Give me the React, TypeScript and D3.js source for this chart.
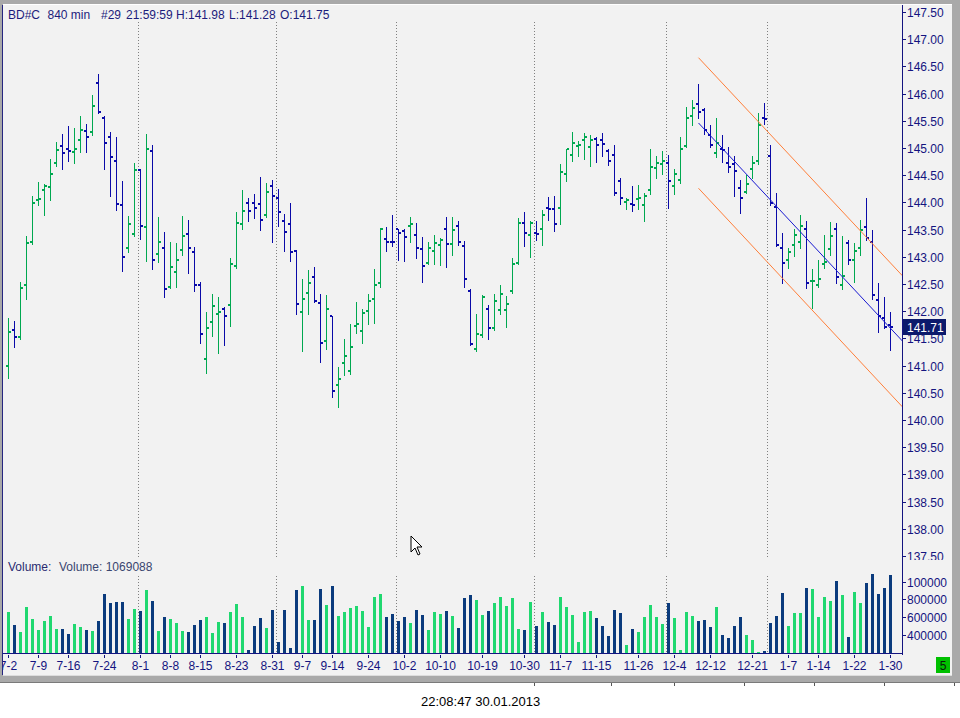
import * as d3 from 'd3';
import React, { FC, useEffect, useRef } from 'react';

// bar data, oldest first (148 bars of 840 min)
const opens = [
  140.99, 141.65, 141.52, 142.49, 143.28, 144.04, 144.22, 144.28, 144.72, 145.03,
  144.98, 144.92, 145.14, 145.31, 145.29, 146.19, 145.55, 145.2, 144.76, 143.95,
  143.17, 143.41, 144.59, 143.54, 144.94, 143.05, 143.17, 142.44, 142.72, 143.12,
  143.41, 143.08, 142.48, 141.13, 141.81, 141.94, 142.04, 142.11, 142.83, 143.6,
  143.98, 143.98, 143.97, 143.76, 144.3, 144.09, 143.65, 143.6, 143.1, 141.98,
  142.33, 142.62, 142.15, 141.45, 141.91, 140.64, 141.04, 140.9, 141.72, 141.63,
  142.0, 142.22, 142.51, 143.32, 143.28, 143.51, 143.47, 143.56, 143.4, 143.14,
  142.88, 143.1, 143.21, 143.51, 143.23, 143.57, 143.19, 142.37, 141.3, 141.56,
  142.04, 141.69, 142.02, 142.02, 142.38, 142.88, 143.63, 143.4, 143.43, 143.51,
  143.89, 143.87, 143.89, 144.53, 144.87, 145.03, 145.14, 145.01, 145.16, 145.14,
  144.94, 144.88, 144.39, 144.0, 143.97, 144.06, 143.95, 144.22, 144.63, 144.7,
  144.72, 144.3, 144.42, 145.03, 145.58, 145.8, 145.69, 145.23, 144.9, 144.98,
  144.72, 144.7, 144.26, 144.19, 144.61, 144.77, 145.55, 144.85, 143.91, 143.17,
  142.95, 143.21, 143.27, 143.51, 142.55, 142.48, 142.86, 143.14, 143.51, 142.49,
  143.25, 142.95, 143.17, 143.54, 143.27, 142.2, 141.87, 141.75
];

const highs = [
  141.87, 141.82, 142.54, 143.38, 144.12, 144.38, 144.34, 144.8, 145.11, 145.26,
  145.4, 145.37, 145.59, 145.44, 145.97, 146.36, 145.58, 145.29, 145.2, 144.39,
  143.75, 144.72, 144.61, 145.26, 145.06, 143.73, 143.46, 143.27, 143.25, 143.75,
  143.68, 143.18, 142.53, 141.99, 142.32, 142.26, 142.08, 142.98, 143.82, 144.23,
  144.08, 144.15, 144.47, 144.35, 144.41, 144.24, 143.79, 143.99, 143.12, 142.6,
  142.76, 142.81, 142.32, 142.3, 141.92, 140.97, 141.49, 141.76, 142.17, 142.04,
  142.32, 142.78, 143.53, 143.55, 143.77, 143.52, 143.51, 143.73, 143.62, 143.36,
  143.27, 143.4, 143.35, 143.73, 143.73, 143.66, 143.29, 142.4, 141.95, 142.29,
  142.11, 142.32, 142.48, 142.28, 142.98, 143.71, 143.82, 143.66, 143.66, 143.86,
  144.1, 144.12, 144.71, 144.99, 145.29, 145.13, 145.28, 145.24, 145.2, 145.28,
  144.99, 145.05, 144.44, 144.09, 144.3, 144.32, 144.17, 144.98, 144.85, 144.94,
  144.87, 144.61, 145.2, 145.75, 145.88, 146.18, 145.73, 145.42, 145.55, 145.23,
  145.01, 144.85, 144.41, 144.51, 144.85, 145.64, 145.82, 145.05, 144.17, 143.44,
  143.17, 143.51, 143.77, 143.66, 142.78, 142.94, 143.4, 143.64, 143.62, 143.38,
  143.31, 143.25, 143.68, 144.08, 143.49, 142.51, 142.27, 141.98
];

const lows = [
  140.78, 141.35, 141.48, 142.23, 143.24, 143.96, 143.76, 144.05, 144.67, 144.62,
  144.77, 144.73, 144.93, 144.93, 145.23, 145.64, 144.62, 144.12, 143.86, 142.74,
  143.09, 143.38, 143.33, 142.93, 142.78, 142.91, 142.27, 142.42, 142.45, 143.04,
  142.71, 142.38, 141.42, 140.87, 141.55, 141.24, 141.37, 141.73, 142.8, 143.52,
  143.65, 143.72, 143.5, 143.74, 143.28, 143.57, 143.11, 142.93, 141.95, 141.26,
  141.95, 142.17, 141.07, 141.31, 140.43, 140.24, 140.83, 140.85, 141.6, 141.42,
  141.77, 141.79, 142.45, 143.11, 143.19, 142.95, 142.93, 143.28, 142.97, 142.54,
  142.87, 142.87, 142.85, 142.82, 143.04, 143.22, 142.45, 141.37, 141.27, 141.53,
  141.49, 141.66, 141.95, 141.71, 142.34, 142.86, 143.19, 143.0, 143.3, 143.22,
  143.68, 143.48, 143.61, 144.4, 144.77, 144.86, 144.8, 144.66, 144.75, 144.86,
  144.69, 144.14, 143.97, 143.87, 143.85, 143.87, 143.66, 144.15, 144.45, 144.53,
  143.9, 144.16, 144.36, 145.01, 145.42, 145.56, 145.25, 145.02, 144.84, 144.75,
  144.55, 144.12, 143.81, 144.17, 144.45, 144.7, 145.44, 143.96, 143.19, 142.52,
  142.8, 143.02, 143.17, 142.43, 142.06, 142.45, 142.8, 143.03, 142.52, 142.4,
  142.86, 142.54, 143.03, 143.3, 142.22, 141.62, 141.69, 141.28
];

const closes = [
  141.61, 141.52, 142.42, 143.25, 143.98, 144.06, 144.3, 144.53, 144.96, 144.9,
  144.94, 144.98, 145.34, 145.2, 145.78, 145.66, 145.1, 144.83, 143.97, 142.99,
  143.6, 144.59, 143.56, 144.99, 142.94, 143.28, 142.4, 142.81, 142.94, 143.38,
  143.16, 142.49, 141.58, 141.7, 142.09, 141.98, 141.92, 142.86, 143.62, 143.84,
  143.85, 143.89, 143.67, 144.19, 144.11, 143.82, 143.45, 143.08, 142.13, 142.22,
  142.51, 142.18, 141.41, 142.04, 140.53, 140.75, 141.17, 141.34, 141.76, 141.96,
  142.18, 142.49, 143.52, 143.27, 143.27, 143.43, 143.36, 143.6, 143.17, 142.84,
  143.17, 143.25, 143.3, 143.23, 143.49, 143.27, 142.6, 141.39, 141.59, 142.27,
  141.69, 142.18, 142.31, 142.13, 142.86, 143.62, 143.43, 143.62, 143.42, 143.76,
  143.87, 143.6, 144.55, 144.98, 145.1, 145.05, 145.2, 145.14, 145.05, 145.07,
  144.77, 144.17, 144.09, 144.04, 143.95, 144.08, 144.11, 144.65, 144.72, 144.76,
  144.39, 144.52, 144.98, 145.56, 145.73, 145.66, 145.34, 145.05, 145.09, 144.97,
  144.65, 144.57, 144.09, 144.33, 144.72, 145.42, 145.53, 143.98, 143.21, 142.88,
  143.08, 143.4, 143.56, 142.51, 142.56, 142.59, 142.9, 143.38, 142.62, 142.64,
  142.95, 143.1, 143.49, 143.34, 142.29, 141.92, 141.71, 141.71
];

const volumes = [
  654000, 517000, 431000, 718000, 584000, 453000, 554000, 610000, 472000, 464000,
  416000, 528000, 487000, 453000, 442000, 554000, 855000, 755000, 773000, 766000,
  576000, 695000, 666000, 900000, 785000, 442000, 606000, 584000, 531000, 442000,
  431000, 517000, 572000, 606000, 420000, 543000, 531000, 654000, 744000, 598000,
  230000, 498000, 587000, 476000, 677000, 319000, 677000, 260000, 900000, 945000,
  565000, 565000, 911000, 733000, 945000, 610000, 654000, 699000, 721000, 666000,
  487000, 822000, 855000, 598000, 632000, 554000, 598000, 531000, 677000, 621000,
  453000, 654000, 632000, 666000, 610000, 476000, 811000, 844000, 788000, 621000,
  673000, 755000, 829000, 721000, 818000, 472000, 461000, 766000, 505000, 654000,
  543000, 517000, 829000, 718000, 628000, 319000, 654000, 666000, 595000, 498000,
  394000, 677000, 643000, 286000, 464000, 431000, 606000, 733000, 598000, 520000,
  755000, 587000, 230000, 654000, 610000, 554000, 572000, 487000, 710000, 405000,
  368000, 505000, 606000, 405000, 349000, 215000, 226000, 539000, 617000, 867000,
  505000, 643000, 643000, 930000, 919000, 598000, 829000, 777000, 1008000, 844000,
  382000, 885000, 755000, 978000, 1079000, 855000, 922000, 1069088
];

const xTickIdx = [0, 5, 10, 16, 22, 27, 32, 38, 44, 49, 54, 60, 66, 72, 79, 86, 92, 98, 105, 111, 117, 124, 130, 135, 141, 147];
const xTickLabels = [
  '7-2', '7-9', '7-16', '7-24', '8-1', '8-8', '8-15', '8-23', '8-31', '9-7', '9-14', '9-24', '10-2',
  '10-10', '10-19', '10-30', '11-7', '11-15', '11-26', '12-4', '12-12', '12-21', '1-7', '1-14', '1-22', '1-30'
];
const monthStartIdx = [22, 45, 65, 88, 110, 127];

const priceTicks = [
  147.5, 147, 146.5, 146, 145.5, 145, 144.5, 144, 143.5, 143, 142.5,
  142, 141.5, 141, 140.5, 140, 139.5, 139, 138.5, 138, 137.5
];
const volTicks = [1000000, 800000, 600000, 400000];
const volTickLabels = ['100000', '800000', '600000', '400000'];

// header tokens and where each one starts
const headerTexts = ['BD#C', '840 min', '#29', '21:59:59', 'H:141.98', 'L:141.28', 'O:141.75'];
const headerX = [8, 47.5, 101, 126, 176, 229, 280];

// regression channel drawn on the chart (bar index -> price)
const channelIdx = [115, 149];
const channelMid = [145.46, 141.45];
const channelUpper = [146.66, 142.65];
const channelLower = [144.26, 140.24];

const W = 960;
const H = 718;
const FONT = '"Liberation Sans", Arial, sans-serif';
const UP = '#00a850';
const DOWN = '#0a0aa8';
const VOL_UP = '#20d870';
const VOL_DOWN = '#0b3b7d';
const NAVY = '#141480';

const Chart: FC = (): JSX.Element => {
  const ref = useRef<SVGSVGElement>(null);

  const createChart = () => {
    const svg = d3.select(ref.current).attr('width', W).attr('height', H);
    svg.selectAll('*').remove();

    const x = d3.scaleLinear().domain([0, 147]).range([8.5, 890.5]);
    const y = d3.scaleLinear().domain([137.5, 147.5]).range([556, 12]);
    const yv = d3.scaleLinear().domain([200000, 1000000]).range([653, 581.5]);
    const py = (v: number) => Math.round(y(v));

    const defs = svg.append('defs');
    defs.append('clipPath').attr('id', 'plotClip')
      .append('rect').attr('x', 3).attr('y', 5).attr('width', 899).attr('height', 554);
    defs.append('clipPath').attr('id', 'priceAxisClip')
      .append('rect').attr('x', 902).attr('y', 5).attr('width', 50).attr('height', 555);
    defs.append('clipPath').attr('id', 'xAxisClip')
      .append('rect').attr('x', 3).attr('y', 655).attr('width', 949).attr('height', 20);

    // window frame
    svg.append('rect').attr('width', W).attr('height', H).attr('fill', '#ffffff');
    svg.append('rect').attr('width', W).attr('height', 683).attr('fill', '#a9a9a9');
    svg.append('rect').attr('x', 3).attr('y', 5).attr('width', 949).attr('height', 670).attr('fill', '#f2f2f2');
    svg.append('rect').attr('x', 3).attr('y', 4).attr('width', 949).attr('height', 1).attr('fill', '#ffffff');
    svg.append('rect').attr('x', 3).attr('y', 675).attr('width', 949).attr('height', 1).attr('fill', '#dcdcdc');
    svg.append('rect').attr('x', 0).attr('y', 682).attr('width', W).attr('height', 1).attr('fill', '#7a7a7a');
    svg.append('rect').attr('x', 2).attr('y', 5).attr('width', 1).attr('height', 670).attr('fill', '#262680');
    [534, 611, 674, 744, 814, 884, 954].forEach((sx) => {
      svg.append('rect').attr('x', sx).attr('y', 683).attr('width', 1).attr('height', 3).attr('fill', '#555555');
    });

    // month separators
    const sep = svg.append('g').attr('stroke', '#808080').attr('stroke-dasharray', '1,2');
    monthStartIdx.forEach((m) => {
      const sx = Math.round(x(m)) - 2.5;
      sep.append('line').attr('x1', sx).attr('x2', sx).attr('y1', 22).attr('y2', 558);
      sep.append('line').attr('x1', sx).attr('x2', sx).attr('y1', 576).attr('y2', 653);
    });

    // price bars
    const bars = svg.append('g').attr('clip-path', 'url(#plotClip)');
    opens.forEach((o, i) => {
      const c = closes[i];
      const col = c >= o ? UP : DOWN;
      const cx = x(i);
      const top = py(highs[i]);
      const bottom = py(lows[i]);
      bars.append('rect').attr('x', cx - 0.5).attr('y', top).attr('width', 1)
        .attr('height', Math.max(1, bottom - top + 1)).attr('fill', col);
      bars.append('rect').attr('x', cx - 2.5).attr('y', py(o) - 1).attr('width', 2).attr('height', 2).attr('fill', col);
      bars.append('rect').attr('x', cx + 0.5).attr('y', py(c) - 1).attr('width', 2).attr('height', 2).attr('fill', col);
    });

    // channel
    const line = d3.line<[number, number]>().x((d) => x(d[0])).y((d) => y(d[1]));
    const chan = svg.append('g').attr('clip-path', 'url(#plotClip)').attr('fill', 'none').attr('stroke-width', 1);
    [
      { v: channelUpper, c: '#ff7f3a' },
      { v: channelLower, c: '#ff7f3a' },
      { v: channelMid, c: '#1818d0' }
    ].forEach((s) => {
      chan.append('path')
        .attr('d', line(channelIdx.map((ix, k) => [ix, s.v[k]] as [number, number])))
        .attr('stroke', s.c);
    });

    // volume bars
    const vol = svg.append('g');
    volumes.forEach((v, i) => {
      const top = Math.round(yv(v));
      vol.append('rect').attr('x', x(i) - 1.5).attr('y', top).attr('width', 3)
        .attr('height', 653 - top).attr('fill', closes[i] >= opens[i] ? VOL_UP : VOL_DOWN);
    });

    // axes
    svg.append('rect').attr('x', 902).attr('y', 5).attr('width', 1).attr('height', 650).attr('fill', NAVY);
    svg.append('rect').attr('x', 3).attr('y', 653).attr('width', 900).attr('height', 1).attr('fill', NAVY);

    const pAxis = svg.append('g').attr('clip-path', 'url(#priceAxisClip)')
      .attr('font-family', FONT).attr('font-size', 12).attr('fill', NAVY);
    priceTicks.forEach((t) => {
      const ty = py(t);
      pAxis.append('rect').attr('x', 903).attr('y', ty).attr('width', 3).attr('height', 1);
      pAxis.append('text').attr('x', 907).attr('y', ty + 5).text(d3.format('.2f')(t));
    });

    const vAxis = svg.append('g').attr('font-family', FONT).attr('font-size', 12).attr('fill', NAVY);
    volTicks.forEach((t, k) => {
      const ty = Math.round(yv(t));
      vAxis.append('rect').attr('x', 903).attr('y', ty).attr('width', 3).attr('height', 1);
      vAxis.append('text').attr('x', 907).attr('y', ty + 5).text(volTickLabels[k]);
    });

    const xAxis = svg.append('g').attr('clip-path', 'url(#xAxisClip)')
      .attr('font-family', FONT).attr('font-size', 12).attr('fill', NAVY).attr('text-anchor', 'middle');
    xTickIdx.forEach((ix, k) => {
      const tx = x(ix);
      xAxis.append('rect').attr('x', tx - 0.5).attr('y', 654).attr('width', 1).attr('height', 4);
      xAxis.append('text').attr('x', tx).attr('y', 670).text(xTickLabels[k]);
    });

    // last price box
    const last = closes[closes.length - 1];
    const ly = py(last);
    svg.append('rect').attr('x', 903).attr('y', ly - 8).attr('width', 43).attr('height', 16).attr('fill', '#0c1a6c');
    svg.append('text').attr('x', 907).attr('y', ly + 5).attr('font-family', FONT).attr('font-size', 12)
      .attr('fill', '#ffffff').text(d3.format('.2f')(last));

    // captions
    const cap = svg.append('g').attr('font-family', FONT).attr('font-size', 12).attr('fill', '#1c1c7c');
    headerTexts.forEach((t, k) => {
      cap.append('text').attr('x', headerX[k]).attr('y', 19).text(t);
    });
    cap.append('text').attr('x', 8).attr('y', 571).attr('fill', '#2a2a70').text('Volume:');
    cap.append('text').attr('x', 59).attr('y', 571).attr('fill', '#3a4670').text('Volume: 1069088');

    svg.append('rect').attr('x', 936).attr('y', 657).attr('width', 14).attr('height', 16).attr('fill', '#00c000');
    svg.append('text').attr('x', 943).attr('y', 670).attr('text-anchor', 'middle').attr('font-family', FONT)
      .attr('font-size', 12).attr('fill', '#0a1a0a').text('5');

    svg.append('text').attr('x', 421).attr('y', 706).attr('font-family', FONT).attr('font-size', 13)
      .attr('fill', '#000000').text('22:08:47 30.01.2013');

    // mouse pointer left in the screenshot
    svg.append('path')
      .attr('d', 'M411,536 L411,552 L415,548 L418,555 L420,554 L417,547 L422,547 Z')
      .attr('fill', '#ffffff').attr('stroke', '#000000').attr('stroke-width', 1);
  };

  useEffect(() => {
    createChart();
  }, []);

  return <svg ref={ref} style={{ display: 'block' }} />;
};

const App: FC = (): JSX.Element => (
  <>
    <style>{'body { margin: 0; }'}</style>
    <Chart />
  </>
);

export default App;
